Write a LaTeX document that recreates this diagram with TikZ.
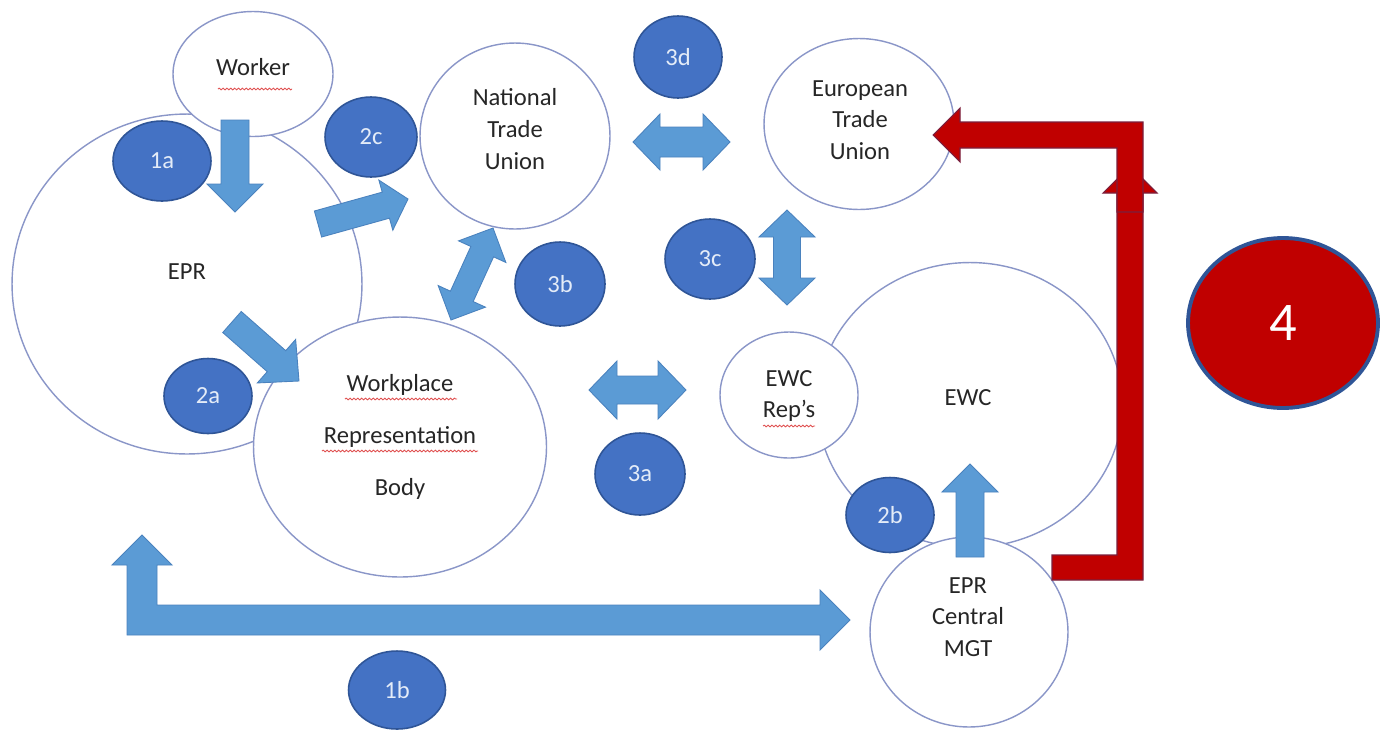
\documentclass[tikz,border=0pt]{standalone}
\usepackage{fontspec}
\setmainfont{Carlito}
\usetikzlibrary{calc,shapes.geometric,decorations.pathmorphing}
\definecolor{ringc}{HTML}{8A96C8}
\definecolor{lblfill}{HTML}{4472C4}
\definecolor{lbldraw}{HTML}{2F5597}
\definecolor{lbltext}{HTML}{E4ECF8}
\definecolor{arrfill}{HTML}{5B9BD5}
\definecolor{arrdraw}{HTML}{4A82BE}
\definecolor{redfill}{HTML}{C00000}
\definecolor{reddraw}{HTML}{7A1F3D}
\definecolor{txtc}{HTML}{262626}
\definecolor{squig}{HTML}{E05050}
\tikzset{
  ring/.style={ellipse, draw=ringc, fill=white, line width=0.8pt, inner sep=0pt},
  lbl/.style={ellipse, draw=lbldraw, fill=lblfill, line width=0.9pt, inner sep=0pt, text=lbltext, font=\fontsize{14}{16}\selectfont},
  txt/.style={text=txtc, align=center, inner sep=0pt, font=\fontsize{14}{18}\selectfont},
  blockarrow/.style={fill=arrfill, draw=arrdraw, line width=0.5pt, line join=miter},
  redarrow/.style={fill=redfill, draw=reddraw, line width=0.6pt},
  squiggle/.style={draw=squig, line width=0.5pt, decorate, decoration={snake, amplitude=0.5pt, segment length=2.2pt}}
}
% single block arrow: start, tip, shaft half width, head half width, head length
\newcommand\blockarr[5]{%
  \coordinate (ba-h) at ($(#2)!#5!(#1)$);
  \filldraw[blockarrow] ($(#1)!#3!90:(#2)$) -- ($(ba-h)!#3!90:(#2)$) -- ($(ba-h)!#4!90:(#2)$) -- (#2)
     -- ($(ba-h)!#4!-90:(#2)$) -- ($(ba-h)!#3!-90:(#2)$) -- ($(#1)!#3!-90:(#2)$) -- cycle;}
% double block arrow: end1, end2, shaft half width, head half width, head length
\newcommand\dblarr[5]{%
  \coordinate (da-h) at ($(#2)!#5!(#1)$);
  \coordinate (da-g) at ($(#1)!#5!(#2)$);
  \filldraw[blockarrow] (#1) -- ($(da-g)!#4!90:(#2)$) -- ($(da-g)!#3!90:(#2)$) -- ($(da-h)!#3!90:(#2)$)
     -- ($(da-h)!#4!90:(#2)$) -- (#2) -- ($(da-h)!#4!-90:(#2)$) -- ($(da-h)!#3!-90:(#2)$)
     -- ($(da-g)!#3!-90:(#2)$) -- ($(da-g)!#4!-90:(#2)$) -- cycle;}
\begin{document}
\begin{tikzpicture}[x=0.02cm, y=-0.02cm]
\useasboundingbox[fill=white] (0,0) rectangle (1385,731);

% white rings
\node[ring, minimum width=7.0cm, minimum height=6.8cm] (epr) at (187,284) {};
\node[ring, minimum width=3.2cm, minimum height=2.5cm] (worker) at (253,74) {};
\node[ring, minimum width=5.86cm, minimum height=5.2cm] (wrb) at (400,447) {};
\node[ring, minimum width=3.8cm, minimum height=3.72cm] (ntu) at (515,136) {};
\node[ring, minimum width=3.8cm, minimum height=3.42cm] (etu) at (859,124) {};
\node[ring, minimum width=6.1cm, minimum height=5.7cm] (ewc) at (970,405) {};
\node[ring, minimum width=2.76cm, minimum height=2.52cm] (reps) at (789,395) {};
\node[ring, minimum width=3.96cm, minimum height=3.8cm] (mgt) at (969,632) {};

% texts
\node[txt] (worker-t) at (253,67) {Worker};
\node[txt] (epr-t) at (187,272) {EPR};
\node[txt] (ntu-t) at (515,129) {National\\Trade\\Union};
\node[txt] (etu-t) at (860,120) {European\\Trade\\Union};
\node[txt, font=\fontsize{14}{29.5}\selectfont] (wrb-t) at (400,437) {Workplace\\Representation\\Body};
\node[txt] (reps-t) at (789,396) {EWC\\Rep’s};
\node[txt] (ewc-t) at (968,398) {EWC};
\node[txt] (mgt-t) at (968,617) {EPR\\Central\\MGT};

% spell-check squiggles
\draw[squiggle] (218,89) -- (292,89);
\draw[squiggle] (345,399) -- (457,399);
\draw[squiggle] (322,451) -- (478,451);
\draw[squiggle] (763,426) -- (815,426);

% red elbow arrows (4)
\coordinate (r4start) at (1052,567);
\coordinate (r4tip) at (933,135);
\filldraw[redarrow] (1052,580) -- (1052,555) -- (1117,555) -- (1117,193) -- (1103,193) -- (1130,166)
   -- (1157,193) -- (1143,193) -- (1143,580) -- cycle;
\filldraw[redarrow] (1117,212) -- (1117,148) -- (960,148) -- (960,162) -- (r4tip) -- (960,108)
   -- (960,122) -- (1143,122) -- (1143,212) -- cycle;

% 1b elbow double arrow
\coordinate (b1up) at (142,535);
\coordinate (b1rt) at (850,620);
\filldraw[blockarrow] (b1up) -- (172,565) -- (157,565) -- (157,605) -- (820,605) -- (820,590) -- (b1rt)
   -- (820,650) -- (820,635) -- (127,635) -- (127,565) -- (112,565) -- cycle;

% block arrows
\coordinate (a1s) at (235,120); \coordinate (a1t) at (235,212);
\blockarr{a1s}{a1t}{0.28cm}{0.56cm}{0.56cm}
\coordinate (a2cs) at (318,224); \coordinate (a2ct) at (408,199);
\blockarr{a2cs}{a2ct}{0.27cm}{0.52cm}{0.46cm}
\coordinate (a2as) at (232,322); \coordinate (a2at) at (299,381);
\blockarr{a2as}{a2at}{0.28cm}{0.58cm}{0.6cm}
\coordinate (a2bs) at (970,557); \coordinate (a2bt) at (970,464);
\blockarr{a2bs}{a2bt}{0.28cm}{0.56cm}{0.56cm}
\coordinate (a3bs) at (451,320); \coordinate (a3bt) at (493,228);
\dblarr{a3bs}{a3bt}{0.25cm}{0.52cm}{0.52cm}
\coordinate (a3ds) at (633,142); \coordinate (a3dt) at (730,142);
\dblarr{a3ds}{a3dt}{0.3cm}{0.56cm}{0.54cm}
\coordinate (a3cs) at (787,210); \coordinate (a3ct) at (787,305);
\dblarr{a3cs}{a3ct}{0.27cm}{0.56cm}{0.54cm}
\coordinate (a3as) at (589,390); \coordinate (a3at) at (686,390);
\dblarr{a3as}{a3at}{0.28cm}{0.58cm}{0.56cm}

% number labels
\node[lbl, minimum width=1.96cm, minimum height=1.6cm] (l1a) at (162,161) {1a};
\node[lbl, minimum width=1.84cm, minimum height=1.6cm] (l2c) at (371,137) {2c};
\node[lbl, minimum width=1.76cm, minimum height=1.64cm] (l3d) at (678,57) {3d};
\node[lbl, minimum width=1.8cm, minimum height=1.68cm] (l3b) at (560,284) {3b};
\node[lbl, minimum width=1.8cm, minimum height=1.6cm] (l3c) at (710,259) {3c};
\node[lbl, minimum width=1.76cm, minimum height=1.5cm] (l2a) at (208,396) {2a};
\node[lbl, minimum width=1.8cm, minimum height=1.64cm] (l3a) at (640,474) {3a};
\node[lbl, minimum width=1.76cm, minimum height=1.5cm] (l2b) at (890,515) {2b};
\node[lbl, minimum width=1.94cm, minimum height=1.56cm] (l1b) at (397,690) {1b};

% red 4
\node[ellipse, fill=redfill, draw=lbldraw, line width=2.2pt, minimum width=3.8cm, minimum height=3.4cm,
      text=white, font=\fontsize{31}{34}\selectfont, inner sep=0pt] (l4) at (1283,323) {4};
\end{tikzpicture}
\end{document}
